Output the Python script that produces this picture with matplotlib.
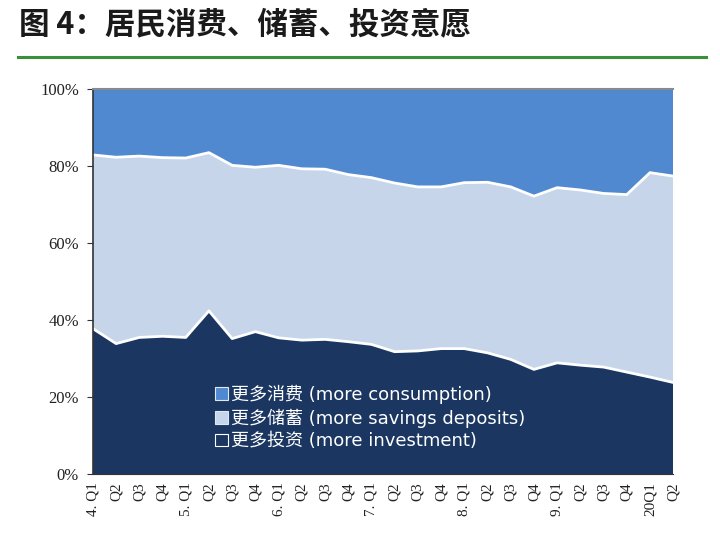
import numpy as np
import matplotlib
matplotlib.use('Agg')
import matplotlib.pyplot as plt
from matplotlib.patches import Patch
from matplotlib.lines import Line2D

plt.rcParams['font.family'] = ['Noto Sans CJK SC', 'DejaVu Sans']

# quarters 2004Q1 .. 2010Q2
quarters = ['4. Q1', 'Q2', 'Q3', 'Q4',
            '5. Q1', 'Q2', 'Q3', 'Q4',
            '6. Q1', 'Q2', 'Q3', 'Q4',
            '7. Q1', 'Q2', 'Q3', 'Q4',
            '8. Q1', 'Q2', 'Q3', 'Q4',
            '9. Q1', 'Q2', 'Q3', 'Q4',
            '20Q1', 'Q2']

# shares in percent
investment = [37.8, 33.9, 35.5, 35.8, 35.5, 42.4, 35.2, 37.0, 35.4, 34.8, 35.0, 34.4, 33.7,
              31.8, 32.0, 32.6, 32.6, 31.5, 29.8, 27.2, 28.9, 28.3, 27.8, 26.5, 25.2, 23.8]
savings = [45.1, 48.4, 47.1, 46.4, 46.6, 41.1, 45.0, 42.7, 44.8, 44.5, 44.2, 43.4, 43.3,
           43.8, 42.6, 42.0, 43.1, 44.3, 44.8, 45.0, 45.5, 45.5, 45.1, 46.1, 53.1, 53.6]
consumption = [17.1, 17.7, 17.4, 17.8, 17.9, 16.5, 19.8, 20.3, 19.8, 20.7, 20.8, 22.2, 23.0,
               24.4, 25.4, 25.4, 24.3, 24.2, 25.4, 27.8, 25.6, 26.2, 27.1, 27.4, 21.7, 22.6]

labels = ['更多消费 (more consumption)',
          '更多储蓄 (more savings deposits)',
          '更多投资 (more investment)']

c_dark = '#1b3761'
c_light = '#c6d5ea'
c_mid = '#5089d0'

fig = plt.figure(figsize=(7.2, 5.4), dpi=100)
fig.patch.set_facecolor('white')

# header
fig.text(0.026, 0.955, '图 4：居民消费、储蓄、投资意愿', fontsize=22, fontweight='bold',
         va='center', ha='left', color='#1a1a1a')
fig.add_artist(Line2D([0.025, 0.98], [0.894, 0.894], color='#3a8f3a', lw=2.2,
                      transform=fig.transFigure))

ax = fig.add_axes([0.129, 0.122, 0.806, 0.713])
x = np.arange(len(quarters))
ax.stackplot(x, investment, savings, consumption, colors=[c_dark, c_light, c_mid], lw=0)

b1 = np.array(investment)
b2 = b1 + np.array(savings)
ax.plot(x, b1, color='white', lw=2)
ax.plot(x, b2, color='white', lw=2)

ax.set_xlim(0, len(quarters) - 1)
ax.set_ylim(0, 100)
ax.set_yticks(range(0, 101, 20))
ax.set_yticklabels([f'{v}%' for v in range(0, 101, 20)], family='Liberation Serif',
                   fontsize=12, color='#222222')
ax.set_xticks(x)
ax.set_xticklabels(quarters, rotation=90, family='Liberation Serif', fontsize=11,
                   color='#222222')
ax.tick_params(axis='x', length=0, pad=6)
ax.tick_params(axis='y', length=4, direction='out', color='#333333', pad=6)

ax.spines['right'].set_visible(False)
ax.spines['top'].set_color('#8a8a8a')
ax.spines['top'].set_linewidth(1.5)
ax.spines['left'].set_color('#333333')
ax.spines['left'].set_linewidth(1.2)
ax.spines['bottom'].set_color('#333333')

handles = [Patch(facecolor=c_mid, edgecolor='#dfe8f5', lw=0.8),
           Patch(facecolor=c_light, edgecolor='#dfe8f5', lw=0.8),
           Patch(facecolor=c_dark, edgecolor='white', lw=0.8)]
leg = ax.legend(handles, labels, loc='upper left', bbox_to_anchor=(0.195, 0.255),
                frameon=False, labelcolor='white', handlelength=0.7,
                handleheight=0.7, handletextpad=0.2, labelspacing=0.25, borderpad=0,
                prop={'family': ['DejaVu Sans', 'Noto Sans CJK SC'], 'size': 13})

fig.savefig('out.png', dpi=100)
